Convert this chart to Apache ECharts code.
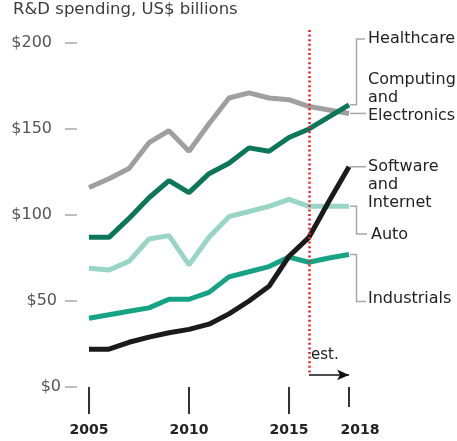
<!DOCTYPE html>
<html>
<head>
<meta charset="utf-8">
<script src="https://cdn.jsdelivr.net/npm/echarts@6/dist/echarts.min.js"></script>
<style>
  html, body { margin: 0; padding: 0; background: #fff; }
  #chart { width: 457px; height: 441px; }
</style>
</head>
<body>
<div id="chart"></div>
<script>
// years on the x axis
const years = ['2005', '2006', '2007', '2008', '2009', '2010', '2011', '2012', '2013', '2014', '2015', '2016', '2017', '2018'];
// R&D spending, US$ billions
const healthcare = [116, 121, 127, 142, 149, 137, 153, 168, 171, 168, 167, 163, 161, 159];
const computing = [87, 87, 98, 110, 120, 113, 124, 130, 139, 137, 145, 150, 157, 164];
const auto = [69, 68, 73, 86, 88, 71, 87, 99, 102, 105, 109, 105, 105, 105];
const industrials = [40, 42, 44, 46, 51, 51, 55, 64, 67, 70, 75.5, 72.5, 75, 77];
const software = [22, 22, 26, 29, 31.5, 33.5, 36.5, 42.5, 50, 58.5, 76, 87, 108, 128];
// y ticks
const yTicks = [0, 50, 100, 150, 200];
const estYear = '2016';
// the dotted line runs a little above the top tick
const yTop = 207.5;

const FONT = 'DejaVu Sans';
const chart = echarts.init(document.getElementById('chart'));

function lineSeries(name, data, color) {
  return {
    name: name,
    type: 'line',
    data: data,
    symbol: 'none',
    lineStyle: { color: color, width: 5 },
    silent: true
  };
}

const option = {
  animation: false,
  textStyle: { fontFamily: FONT },
  title: {
    text: 'R&D spending, US$ billions',
    left: 13,
    top: 1,
    padding: 0,
    textStyle: { fontFamily: FONT, fontSize: 16.5, fontWeight: 'normal', color: '#3c3c3c' }
  },
  grid: { left: 89, right: 108, top: 30, bottom: 54 },
  xAxis: [{
    type: 'category',
    data: years,
    boundaryGap: false,
    axisLine: { show: false },
    axisTick: { show: true, length: 20, lineStyle: { color: '#333', width: 2 } },
    axisLabel: {
      interval: (i) => i % 5 === 0 || i === years.length - 1,
      margin: 36,
      fontFamily: FONT,
      fontSize: 14,
      fontWeight: 'bold',
      color: '#222',
      formatter: (v) => v === '2018' ? '{r|' + v + '}' : v,
      rich: {
        r: { fontFamily: FONT, fontSize: 14, fontWeight: 'bold', color: '#222', padding: [0, 0, 0, 22] }
      }
    }
  }, {
    type: 'category',
    data: years,
    boundaryGap: false,
    axisLine: { show: false },
    axisTick: { show: true, length: 27, interval: (i) => i % 5 === 0, lineStyle: { color: '#333', width: 2 } },
    axisLabel: { show: false },
    position: 'bottom'
  }],
  yAxis: {
    type: 'value',
    min: 0,
    max: yTop,
    offset: 12,
    axisLine: { show: false },
    axisTick: { show: true, length: 12, customValues: yTicks, lineStyle: { color: '#a8a8a8', width: 1.5 } },
    splitLine: { show: false },
    axisLabel: {
      margin: 16,
      customValues: yTicks,
      formatter: (v) => {
        if (v === 0) return '{a|$0}';
        if (v === 50) return '{b|$50}';
        return '{c|$' + v + '}';
      },
      rich: {
        a: { fontFamily: FONT, fontSize: 16, color: '#555' },
        b: { fontFamily: FONT, fontSize: 16, color: '#555', padding: [0, 4, 0, 0] },
        c: { fontFamily: FONT, fontSize: 16, color: '#555', padding: [0, 9, 0, 0] }
      }
    }
  },
  series: [
    lineSeries('Healthcare', healthcare, '#9f9f9f'),
    lineSeries('Auto', auto, '#98d5c6'),
    lineSeries('Industrials', industrials, '#16a284'),
    lineSeries('Computing and Electronics', computing, '#0b7659'),
    Object.assign(lineSeries('Software and Internet', software, '#1b1b1b'), {
      markLine: {
        silent: true,
        z: 10,
        label: { show: false },
        data: [
          [
            { coord: [estYear, yTop], symbol: 'none', lineStyle: { color: '#ee1c24', width: 2.5, type: [2, 2.6] } },
            { coord: [estYear, 8], symbol: 'none' }
          ],
          [
            { coord: [estYear, 7], symbol: 'none', lineStyle: { color: '#111', width: 1.5, type: 'solid' } },
            { coord: ['2018', 7], symbol: 'arrow', symbolSize: [8, 12] }
          ]
        ]
      }
    })
  ]
};
chart.setOption(option);

// leader lines and labels at the end of each line
const endIdx = years.length - 1;
const px = (v) => chart.convertToPixel({ gridIndex: 0 }, [years[endIdx], v]);
const pH = px(healthcare[endIdx]);
const pC = px(computing[endIdx]);
const pA = px(auto[endIdx]);
const pI = px(industrials[endIdx]);
const pS = px(software[endIdx]);
const elbowX = pC[0] + 7.5;
const textX = 368;
const leader = { stroke: '#a8a8a8', lineWidth: 1.5, fill: null };

function poly(points) {
  return { type: 'polyline', silent: true, shape: { points: points }, style: leader };
}
function label(text, x, y) {
  return {
    type: 'text', x: x, y: y, silent: true,
    style: { text: text, font: '16px "' + FONT + '"', fill: '#222', verticalAlign: 'middle', lineHeight: 18 }
  };
}

chart.setOption({
  graphic: [
    // labels are swapped in the source: Healthcare leader meets the green end, Computing meets the grey end
    poly([[pC[0] + 1, pC[1]], [elbowX, pC[1]], [elbowX, 39], [textX - 3, 39]]),
    poly([[pH[0] + 1, pH[1]], [textX - 2, pH[1]]]),
    poly([[pS[0] + 1, pS[1]], [textX - 2, pS[1]]]),
    poly([[pA[0] + 1, pA[1]], [elbowX, pA[1]], [elbowX, 234], [textX - 1, 234]]),
    poly([[pI[0] + 1, pI[1]], [elbowX, pI[1]], [elbowX, 301.5], [textX - 2, 301.5]]),
    label('Healthcare', textX, 39),
    label('Computing\nand\nElectronics', textX, 98),
    label('Software\nand\nInternet', textX, 184.5),
    label('Auto', textX + 3, 235),
    label('Industrials', textX, 299),
    {
      type: 'text', x: 311, y: 355, silent: true,
      style: { text: 'est.', font: '15px "' + FONT + '"', fill: '#222', verticalAlign: 'middle' }
    }
  ]
});
</script>
</body>
</html>
